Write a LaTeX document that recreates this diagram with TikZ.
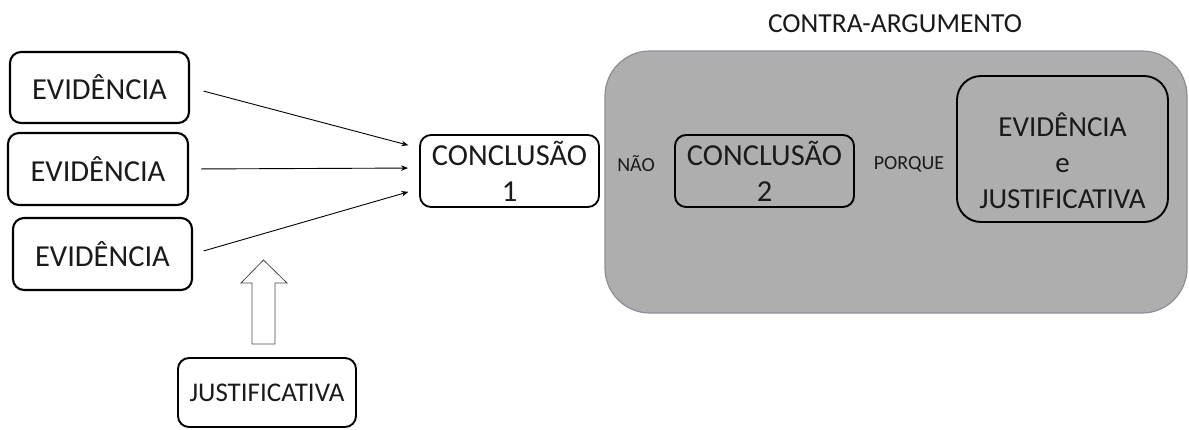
\documentclass[tikz,border=0pt]{standalone}
\usepackage{fontspec}
\setmainfont{Carlito}
\usetikzlibrary{arrows.meta}
\definecolor{txt}{HTML}{1A1A1A}
\definecolor{panel}{HTML}{AEAEAE}
\definecolor{panelline}{HTML}{8A8F98}
\begin{document}
\begin{tikzpicture}[x=1pt,y=-1pt,
  box/.style={draw=black,line width=2.1pt,rounded corners=11pt,fill=white,text=txt,
    align=center,inner sep=0pt,font=\fontsize{30.5}{36}\selectfont},
  graybox/.style={box,fill=none},
  lbl/.style={text=txt,inner sep=0pt,font=\fontsize{20}{24}\selectfont},
  arr/.style={line width=0.9pt,-{Stealth[length=7pt,width=5.5pt]}}]
\useasboundingbox (0,0) rectangle (1189,429);
% counter-argument panel
\node[draw=panelline,line width=1.2pt,fill=panel,rounded corners=45pt,
  minimum width=582pt,minimum height=262pt,inner sep=0pt] (ca) at (896,182) {};
\node[text=txt,font=\fontsize{27.5}{32}\selectfont,inner sep=0pt] (catitle) at (895,24) {CONTRA-ARGUMENTO};
% evidence boxes
\node[box,minimum width=179pt,minimum height=71pt] (e1) at (99.5,87.5) {EVIDÊNCIA};
\node[box,minimum width=180pt,minimum height=72pt] (e2) at (98,169) {EVIDÊNCIA};
\node[box,minimum width=179pt,minimum height=72pt] (e3) at (102.5,254) {EVIDÊNCIA};
% conclusion 1
\node[box,line width=1.8pt,minimum width=179pt,minimum height=72pt,
  font=\fontsize{30.5}{36}\selectfont] (c1) at (509.5,171) {CONCLUSÃO\\1};
% justification
\node[box,line width=1.9pt,minimum width=178pt,minimum height=69pt,
  font=\fontsize{27}{32}\selectfont] (j) at (267,392.5) {JUSTIFICATIVA};
% counter argument content
\node[lbl] (nao) at (636,164) {NÃO};
\node[graybox,line width=1.9pt,minimum width=179pt,minimum height=72pt,
  font=\fontsize{30.5}{36}\selectfont] (c2) at (764.5,171) {CONCLUSÃO\\2};
\node[lbl] (porque) at (909,164) {PORQUE};
\node[graybox,line width=1.9pt,rounded corners=24pt,minimum width=211pt,minimum height=146pt] (ej) at (1062.5,149) {};
\node[text=txt,align=center,inner sep=0pt,font=\fontsize{29}{36}\selectfont] (ejt)
  at ([yshift=-12pt]ej.center) {EVIDÊNCIA\\e\\JUSTIFICATIVA};
% arrows
\coordinate (a1) at (420,148.3);
\coordinate (a2) at (420,168);
\coordinate (a3) at (420,188.5);
\draw[arr,shorten <=14pt,shorten >=12pt] (e1.east) -- (a1);
\draw[arr,shorten <=12pt,shorten >=12pt] (e2.east) -- (a2);
\draw[arr,shorten <=11pt,shorten >=12pt] (e3.east) -- (a3);
% block arrow from justification
\draw[line width=0.8pt,draw=black!70,fill=white]
  (252,344) -- (252,283) -- (241,283) -- (263.5,260) -- (287,283) -- (275,283) -- (275,344) -- cycle;
\end{tikzpicture}
\end{document}
